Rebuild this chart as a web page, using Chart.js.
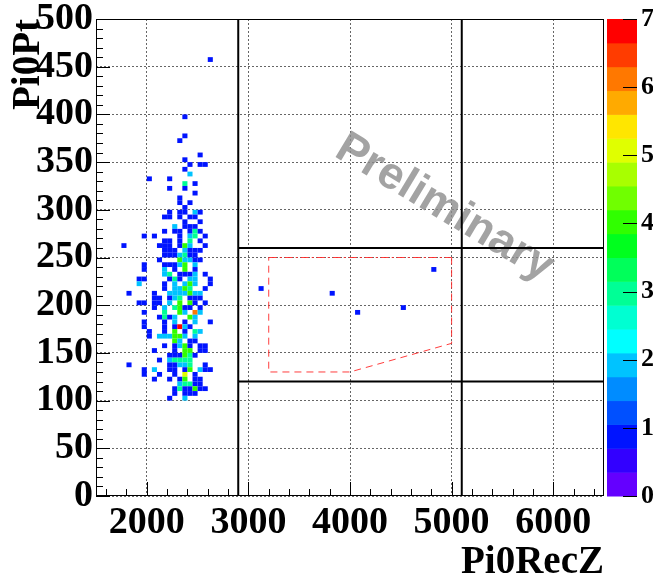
<!DOCTYPE html>
<html>
<head>
<meta charset="utf-8">
<script src="https://cdn.jsdelivr.net/npm/chart.js@4.4.0/dist/chart.umd.min.js"></script>
<style>
  html, body { margin: 0; padding: 0; background: #fff; }
</style>
</head>
<body>
<canvas id="histo" width="653" height="583"></canvas>
<script>
// 2D histogram Pi0Pt vs Pi0RecZ, bins of 50 (Z) x 5 (Pt)
const binW = 50;
const binH = 5;

// filled bins, one row per Pt bin (lower edge); Z lower edges and contents
const ptRows = [455, 395, 375, 370, 355, 350, 345, 340, 335, 330, 325, 320, 315, 310, 305, 300,
  295, 290, 285, 280, 275, 270, 265, 260, 255, 250, 245, 240, 235, 230, 225, 220, 215, 210,
  205, 200, 195, 190, 185, 180, 175, 170, 165, 160, 155, 150, 145, 140, 135, 130, 125, 120,
  115, 110, 105, 100];
const zInRow = [
  [2600], [2350], [2350], [2300], [2500], [2350], [2400, 2500, 2550], [2350], [2400],
  [2000, 2200], [2350, 2450], [2200, 2350], [2450], [2300], [2300, 2400], [2350],
  [2200, 2300, 2350, 2450, 2500],
  [2150, 2200, 2300, 2400, 2450],
  [2350, 2500],
  [2250, 2350, 2400, 2450],
  [2150, 2250, 2300, 2400, 2450, 2500],
  [1950, 2050, 2300, 2400, 2450, 2550],
  [2150, 2200, 2300, 2400, 2500],
  [1750, 2100, 2150, 2200, 2300, 2350, 2400, 2550],
  [2150, 2200, 2250, 2350, 2400, 2450, 2500],
  [2150, 2200, 2250, 2300, 2350, 2400, 2450],
  [2100, 2300, 2350, 2400, 2450, 2500],
  [1950, 2150, 2200, 2250, 2300, 2350, 2450],
  [1950, 2150, 2250, 2350, 2450],
  [2150, 2200, 2300, 2350, 2400, 2450, 2550],
  [1900, 1950, 2200, 2250, 2300, 2400, 2450, 2600],
  [1900, 2150, 2250, 2350, 2400, 2450, 2600],
  [2150, 2250, 2300, 2350, 2400, 2550],
  [1800, 2050, 2200, 2250, 2300, 2350, 2400, 2450, 2500],
  [2050, 2100, 2200, 2250, 2300, 2400, 2450, 2500],
  [1900, 1950, 2050, 2100, 2200, 2300, 2400, 2450, 2550],
  [2050, 2150, 2250, 2300, 2350, 2400, 2500],
  [1950, 2150, 2300, 2350, 2450, 2500],
  [2100, 2150, 2200, 2250, 2400, 2450],
  [1950, 2150, 2250, 2350, 2450, 2600],
  [1950, 2150, 2250, 2300, 2350, 2400],
  [2000, 2150, 2250, 2350, 2450, 2500],
  [2000, 2100, 2150, 2200, 2250, 2300, 2350, 2450],
  [2250, 2300, 2400, 2450],
  [2150, 2250, 2300, 2350, 2400, 2500, 2550],
  [2050, 2250, 2350, 2400, 2500, 2550],
  [2200, 2250, 2300, 2350, 2400, 2450],
  [2100, 2200, 2250, 2300, 2350, 2400],
  [1800, 2200, 2250, 2300, 2350, 2400, 2550],
  [1950, 2050, 2200, 2250, 2350, 2400, 2500, 2550, 2600],
  [1950, 2100, 2250, 2350, 2450],
  [2050, 2200, 2300, 2350, 2450, 2500],
  [2300, 2350, 2400, 2450, 2500],
  [2250, 2300, 2350, 2400, 2450, 2500, 2550],
  [2250, 2350, 2400, 2450],
  [2200, 2350]
];
const nInRow = [
  [1], [1], [1], [1], [1], [1], [1, 1, 1], [1], [2],
  [1, 1], [3, 1], [1, 1], [1], [1], [1, 1], [1],
  [1, 1, 1, 2, 1],
  [1, 1, 1, 1, 1],
  [1, 1],
  [2, 1, 1, 1],
  [1, 1, 1, 1, 3, 1],
  [1, 1, 1, 2, 3, 1],
  [1, 1, 1, 3, 1],
  [1, 1, 1, 1, 1, 4, 2, 1],
  [1, 1, 1, 2, 1, 1, 1],
  [1, 1, 1, 2, 3, 1, 1],
  [1, 4, 2, 2, 1, 1],
  [1, 1, 1, 1, 2, 4, 2],
  [1, 2, 1, 4, 1],
  [2, 3, 1, 1, 1, 2, 1],
  [1, 1, 1, 3, 1, 2, 2, 1],
  [2, 1, 2, 2, 4, 2, 1],
  [1, 2, 2, 4, 3, 1],
  [1, 1, 2, 2, 2, 2, 4, 2, 2],
  [1, 1, 1, 2, 3, 1, 1, 1],
  [1, 1, 1, 1, 2, 4, 4, 1, 1],
  [1, 2, 3, 4, 1, 1, 1],
  [1, 3, 4, 2, 6, 2],
  [1, 3, 1, 2, 4, 2],
  [1, 1, 2, 1, 2, 1],
  [1, 1, 1, 7, 2, 1],
  [1, 1, 4, 1, 3, 2],
  [1, 2, 2, 2, 4, 4, 2, 2],
  [4, 2, 1, 1],
  [1, 1, 2, 4, 1, 1, 1],
  [1, 1, 4, 4, 1, 1],
  [1, 1, 1, 4, 3, 1],
  [1, 2, 3, 3, 3, 3],
  [1, 1, 1, 2, 2, 3, 1],
  [1, 2, 1, 1, 1, 4, 2, 1, 1],
  [1, 1, 1, 5, 1],
  [1, 1, 1, 4, 1, 1],
  [2, 3, 3, 1, 1],
  [1, 3, 1, 1, 4, 1, 1],
  [1, 1, 1, 1],
  [1, 2]
];

// the few entries inside the signal window
const sigZ = [3100, 3800, 4050, 4500, 4800];
const sigPt = [215, 210, 190, 195, 235];
const sigN = [1, 1, 1, 1, 1];

// cut lines and signal box
const cutZ = [2900, 5100];
const cutPt = [260, 120];
const boxTopZ = [3200, 5000];
const boxTopPt = [250, 250];
const boxZ = [5000, 5000, 4000, 3200, 3200];
const boxPt = [250, 160, 130, 130, 250];

// axes
const xTicks = [2000, 3000, 4000, 5000, 6000];
const zMax = 7;

// rainbow palette, 20 contours between 0 and zMax
const palette = ['#6400ff', '#3200ff', '#0014ff', '#0050ff', '#008cff', '#00c3ff', '#00ffff',
  '#00ffd2', '#00ff96', '#00ff5a', '#00ff1e', '#30ff00', '#70ff00', '#a8ff00', '#e0ff00',
  '#ffe600', '#ffaa00', '#ff7800', '#ff3c00', '#ff0000'];
function colorFor(n) {
  const k = Math.min(palette.length - 1, Math.floor(n / (zMax / palette.length)));
  return palette[k];
}

const cells = [];
ptRows.forEach((pt, r) => {
  zInRow[r].forEach((z, k) => cells.push({ z: z, pt: pt, n: nInRow[r][k] }));
});
sigZ.forEach((z, k) => cells.push({ z: z, pt: sigPt[k], n: sigN[k] }));

const serif = 'Liberation Serif';

function noPad(s) {
  s.paddingTop = 0;
  s.paddingBottom = 0;
  s.paddingLeft = 0;
  s.paddingRight = 0;
}

const histoPlugin = {
  id: 'histo',
  beforeDatasetsDraw(chart) {
    const { ctx, chartArea, scales: { x, y } } = chart;
    ctx.save();
    ctx.beginPath();
    ctx.rect(chartArea.left, chartArea.top, chartArea.width, chartArea.height);
    ctx.clip();
    cells.forEach(c => {
      const x0 = x.getPixelForValue(c.z);
      const x1 = x.getPixelForValue(c.z + binW);
      const y0 = y.getPixelForValue(c.pt);
      const y1 = y.getPixelForValue(c.pt + binH);
      ctx.fillStyle = colorFor(c.n);
      ctx.fillRect(x0, y1, x1 - x0, y0 - y1);
    });
    // watermark
    ctx.translate(x.getPixelForValue(4930), y.getPixelForValue(302));
    ctx.rotate(31 * Math.PI / 180);
    ctx.font = 'bold 45px "Liberation Sans"';
    ctx.textAlign = 'center';
    ctx.textBaseline = 'middle';
    ctx.fillStyle = 'rgba(140,140,140,0.8)';
    ctx.fillText('Preliminary', 0, 0);
    ctx.restore();
  },
  afterDatasetsDraw(chart) {
    const { ctx, chartArea: a, scales: { x, y, z } } = chart;
    ctx.save();
    ctx.strokeStyle = '#000';
    ctx.lineWidth = 1;
    ctx.strokeRect(a.left + 0.5, a.top + 0.5, a.width - 1, a.height - 1);
    // ticks pointing inward, like ROOT
    ctx.beginPath();
    for (let v = 0; v <= 500; v += 10) {
      const py = Math.round(y.getPixelForValue(v)) + 0.5;
      const len = v % 50 === 0 ? 14 : 7;
      ctx.moveTo(a.left, py);
      ctx.lineTo(a.left + len, py);
    }
    for (let v = 1600; v <= 6400; v += 200) {
      const px = Math.round(x.getPixelForValue(v)) + 0.5;
      const len = v % 1000 === 0 ? 14 : 7;
      ctx.moveTo(px, a.bottom);
      ctx.lineTo(px, a.bottom - len);
    }
    ctx.stroke();
    // colour palette
    const pl = a.right + 3;
    const pw = 30;
    const step = zMax / palette.length;
    palette.forEach((c, k) => {
      const yb = z.getPixelForValue(k * step);
      const yt = z.getPixelForValue((k + 1) * step);
      ctx.fillStyle = c;
      ctx.fillRect(pl, yt, pw, yb - yt + 0.5);
    });
    ctx.beginPath();
    for (let v = 0; v <= zMax; v++) {
      const py = Math.round(z.getPixelForValue(v)) + 0.5;
      ctx.moveTo(pl + pw, py);
      ctx.lineTo(pl + pw - 14, py);
    }
    ctx.stroke();
    ctx.restore();
  }
};

function lineSet(px, py, color, width, dash) {
  return {
    data: px.map((v, k) => ({ x: v, y: py[k] })),
    showLine: true,
    borderColor: color,
    borderWidth: width,
    borderDash: dash,
    pointRadius: 0,
    fill: false
  };
}

const datasets = [
  lineSet([cutZ[0], cutZ[0]], [0, 500], '#000', 2, []),
  lineSet([cutZ[1], cutZ[1]], [0, 500], '#000', 2, []),
  lineSet([cutZ[0], 6500], [cutPt[0], cutPt[0]], '#000', 2, []),
  lineSet([cutZ[0], 6500], [cutPt[1], cutPt[1]], '#000', 2, []),
  lineSet(boxTopZ, boxTopPt, 'rgba(255,40,40,0.9)', 1, [8, 3, 2, 3]),
  lineSet(boxZ, boxPt, 'rgba(255,40,40,0.9)', 1, [7, 5])
];

new Chart(document.getElementById('histo'), {
  type: 'scatter',
  data: { datasets: datasets },
  plugins: [histoPlugin],
  options: {
    responsive: false,
    animation: false,
    devicePixelRatio: 1,
    layout: { padding: { top: 19, left: 0, right: 0, bottom: 0 } },
    plugins: { legend: { display: false }, tooltip: { enabled: false } },
    scales: {
      x: {
        type: 'linear',
        min: 1500,
        max: 6500,
        afterBuildTicks: s => { s.ticks = xTicks.map(v => ({ value: v })); },
        afterFit: s => { s.height = 87; noPad(s); },
        grid: { color: '#666', lineWidth: 1, drawTicks: false },
        border: { display: false, dash: [2, 2] },
        ticks: {
          autoSkip: false, maxRotation: 0, padding: 4, color: '#000',
          callback: v => String(v),
          font: { family: serif, size: 38, weight: 'bold' }
        },
        title: {
          display: true, text: 'Pi0RecZ', align: 'end', color: '#000',
          padding: { top: 0, bottom: 1 },
          font: { family: serif, size: 39, weight: 'bold', lineHeight: 1 }
        }
      },
      y: {
        type: 'linear',
        min: 0,
        max: 500,
        ticks: {
          stepSize: 50, autoSkip: false, padding: 3, color: '#000',
          callback: v => String(v),
          font: { family: serif, size: 38, weight: 'bold' }
        },
        afterFit: s => { s.width = 96; noPad(s); },
        grid: { color: '#666', lineWidth: 1, drawTicks: false },
        border: { display: false, dash: [2, 2] },
        title: {
          display: true, text: 'Pi0Pt', align: 'end', color: '#000',
          padding: { top: 9, bottom: 0 },
          font: { family: serif, size: 39, weight: 'bold', lineHeight: 1 }
        }
      },
      z: {
        type: 'linear',
        axis: 'y',
        position: 'right',
        min: 0,
        max: zMax,
        afterFit: s => { s.width = 49; noPad(s); },
        grid: { drawOnChartArea: false, drawTicks: false },
        border: { display: false },
        ticks: {
          stepSize: 1, autoSkip: false, padding: 37, color: '#000',
          font: { family: serif, size: 26, weight: 'bold' }
        }
      }
    }
  }
});
</script>
</body>
</html>
